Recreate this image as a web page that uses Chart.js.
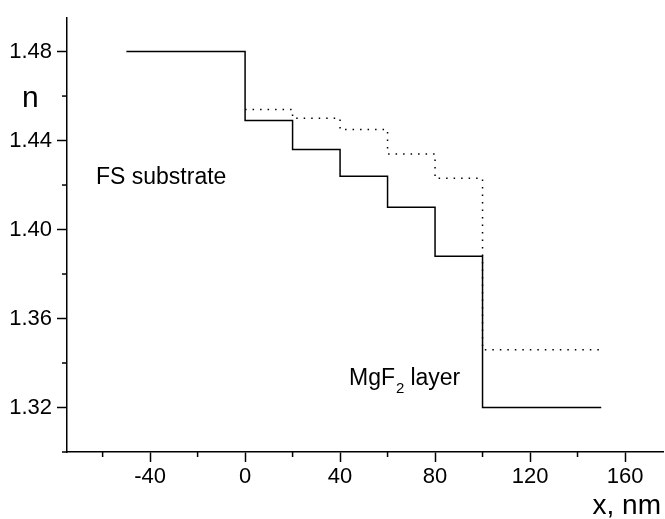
<!DOCTYPE html>
<html>
<head>
<meta charset="utf-8">
<script src="https://cdn.jsdelivr.net/npm/chart.js@4/dist/chart.umd.min.js"></script>
<style>
  html, body { margin: 0; padding: 0; background: #fff; }
  #wrap { width: 665px; height: 519px; position: relative; }
</style>
</head>
<body>
<div id="wrap"><canvas id="graph"></canvas></div>
<script>
// step profiles: each point starts a flat step that runs to the next x
const solidX = [-50, 0, 20, 40, 60, 80, 100, 150];
const solidN = [1.48, 1.449, 1.436, 1.424, 1.410, 1.388, 1.320, 1.320];

const dottedX = [0, 20, 40, 60, 80, 100, 150];
const dottedN = [1.454, 1.450, 1.445, 1.434, 1.423, 1.346, 1.346];

const FONT = 'Arial, "Liberation Sans", sans-serif';

const toPts = (xs, ys) => xs.map((x, i) => ({ x: x, y: ys[i] }));

// minor ticks are short, majors long; labels only on majors
const minorTicks = {
    id: 'minorTicks',
    afterDraw(chart) {
        const c = chart.ctx;
        const xs = chart.scales.x, ys = chart.scales.y;
        c.save();
        c.strokeStyle = '#000';
        c.lineWidth = 1.5;
        xs.ticks.forEach(t => {
            if (Math.round(t.value) % 40 !== 0) {
                const px = xs.getPixelForValue(t.value);
                c.beginPath();
                c.moveTo(px, xs.top);
                c.lineTo(px, xs.top + 5);
                c.stroke();
            }
        });
        ys.ticks.forEach(t => {
            if (Math.round(t.value * 100) % 4 !== 0) {
                const py = ys.getPixelForValue(t.value);
                c.beginPath();
                c.moveTo(ys.right, py);
                c.lineTo(ys.right - 5, py);
                c.stroke();
            }
        });

        // text labels
        c.fillStyle = '#000';
        c.textBaseline = 'alphabetic';
        c.textAlign = 'left';
        c.font = '23px ' + FONT;
        c.fillText('FS substrate', 96, 184);
        c.fillText('MgF', 349, 385);
        const w = c.measureText('MgF').width;
        c.font = '15px ' + FONT;
        c.fillText('2', 349 + w + 1, 393);
        c.font = '23px ' + FONT;
        c.fillText(' layer', 349 + w + 9, 385);

        c.font = '30px ' + FONT;
        c.fillText('n', 22, 107);
        c.textAlign = 'right';
        c.font = '28px ' + FONT;
        c.fillText('x, nm', 661, 514);
        c.restore();
    }
};

const config = {
    type: 'scatter',
    data: {
        datasets: [
            {
                label: 'profile 1',
                data: toPts(solidX, solidN),
                borderColor: '#000',
                borderWidth: 1.5,
                showLine: true,
                stepped: 'before',
                pointRadius: 0,
                fill: false
            },
            {
                label: 'profile 2',
                data: toPts(dottedX, dottedN),
                borderColor: '#000',
                borderWidth: 1.5,
                borderDash: [1.5, 6],
                showLine: true,
                stepped: 'before',
                pointRadius: 0,
                fill: false
            }
        ]
    },
    options: {
        responsive: true,
        maintainAspectRatio: false,
        animation: false,
        layout: { padding: { top: 13, right: 2, left: 0, bottom: 0 } },
        plugins: { legend: { display: false }, tooltip: { enabled: false } },
        scales: {
            x: {
                type: 'linear',
                min: -75,
                max: 176,
                afterFit: (s) => { s.height = 67; },
                border: { display: true, color: '#000', width: 1.5 },
                grid: {
                    drawOnChartArea: false,
                    tickLength: 10,
                    tickWidth: 1.5,
                    tickColor: (ctx) => (ctx.tick && Math.round(ctx.tick.value) % 40 === 0) ? '#000' : 'rgba(0,0,0,0)'
                },
                ticks: {
                    stepSize: 20,
                    includeBounds: false,
                    autoSkip: false,
                    maxRotation: 0,
                    padding: 2,
                    color: '#000',
                    font: { family: FONT, size: 22 },
                    callback: (v) => Math.round(v) % 40 === 0 ? String(v) : ''
                }
            },
            y: {
                type: 'linear',
                min: 1.30,
                max: 1.495,
                afterFit: (s) => { s.width = 67; },
                border: { display: true, color: '#000', width: 1.5 },
                grid: {
                    drawOnChartArea: false,
                    tickLength: 10,
                    tickWidth: 1.5,
                    tickColor: (ctx) => (ctx.tick && Math.round(ctx.tick.value * 100) % 4 === 0) ? '#000' : 'rgba(0,0,0,0)'
                },
                ticks: {
                    stepSize: 0.02,
                    includeBounds: false,
                    autoSkip: false,
                    padding: 5,
                    color: '#000',
                    font: { family: FONT, size: 22 },
                    callback: (v) => Math.round(v * 100) % 4 === 0 ? v.toFixed(2) : ''
                }
            }
        }
    },
    plugins: [minorTicks]
};

const chart = new Chart(document.getElementById('graph'), config);
</script>
</body>
</html>
